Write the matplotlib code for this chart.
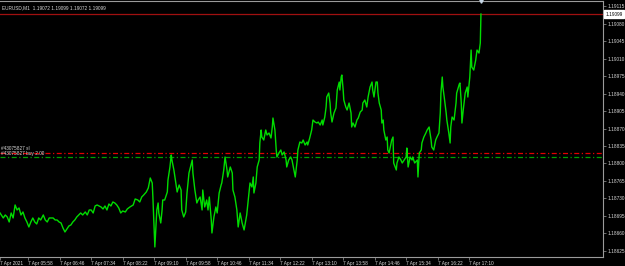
import matplotlib
matplotlib.use("Agg")
import matplotlib.pyplot as plt
import matplotlib.transforms as mtransforms

#-----Data-----#
Symbol = "EURUSD,M1"
LastBar = [1.19072, 1.19099, 1.19072, 1.19099]  # O H L C
Ticket = "#43075827"
StopLoss = 1.18822
OpenPrice = 1.18812
Bid = 1.19099

# minutes since 05:15 on 7 Apr 2021
Minutes = [0, 5, 8, 11, 14, 17, 20, 23, 26, 29, 32, 35, 38, 41, 44, 47, 50, 53, 56, 59,
           62, 66, 69, 72, 75, 78, 81, 84, 87, 90, 93, 96, 99, 102, 105, 108, 111, 114, 117, 120,
           123, 126, 130, 133, 136, 139, 142, 145, 148, 151, 154, 157, 160, 163, 166, 169, 172, 175, 178, 181,
           184, 187, 191, 194, 198, 203, 206, 210, 213, 216, 219, 223, 226, 229, 232, 233, 235, 236, 238, 239,
           241, 242, 245, 247, 248, 251, 255, 256, 259, 261, 262, 265, 268, 270, 273, 276, 277, 280, 283, 285,
           288, 291, 293, 294, 297, 300, 302, 305, 308, 309, 312, 315, 317, 319, 322, 323, 326, 329, 331, 334,
           337, 338, 341, 343, 346, 347, 351, 354, 355, 358, 361, 363, 366, 369, 372, 376, 381, 384, 386, 387,
           390, 392, 395, 396, 398, 399, 402, 405, 407, 410, 413, 415, 416, 419, 421, 422, 425, 428, 430, 433,
           436, 437, 440, 443, 445, 448, 450, 453, 454, 457, 460, 462, 465, 468, 469, 472, 475, 477, 480, 483,
           485, 488, 491, 492, 495, 497, 498, 501, 503, 504, 506, 509, 512, 514, 517, 518, 520, 521, 523, 524,
           527, 529, 532, 535, 536, 538, 541, 544, 546, 549, 552, 553, 556, 559, 561, 564, 567, 568, 570, 573,
           575, 576, 578, 581, 582, 584, 585, 588, 590, 591, 593, 596, 597, 599, 600, 604, 605, 608, 611, 613,
           616, 619, 620, 622, 625, 628, 629, 632, 636, 637, 639, 642, 643, 646, 649, 651, 654, 657, 658, 661,
           664, 666, 669, 671, 672, 674, 675, 677, 680, 681, 684, 686, 687, 689, 692, 695, 696, 700, 701, 703,
           704, 706, 709, 712, 713, 716, 718, 719, 722, 725, 727, 730, 732, 733]

Closes = [1.18701, 1.18691, 1.18697, 1.18693, 1.18683, 1.18701, 1.18691, 1.18717, 1.18707, 1.18711,
          1.18697, 1.18703, 1.18691, 1.18683, 1.18673, 1.18683, 1.18691, 1.18683, 1.18679, 1.18691,
          1.18687, 1.18697, 1.18687, 1.18683, 1.18691, 1.18691, 1.18691, 1.18687, 1.18687, 1.18683,
          1.18681, 1.18671, 1.18663, 1.18669, 1.18675, 1.18677, 1.18683, 1.18687, 1.18693, 1.18697,
          1.18701, 1.18697, 1.18703, 1.18697, 1.18707, 1.18707, 1.18701, 1.18715, 1.18717, 1.18715,
          1.18713, 1.18709, 1.18715, 1.18707, 1.18719, 1.18715, 1.18723, 1.18721, 1.18717, 1.18711,
          1.18701, 1.18705, 1.18703, 1.18709, 1.18713, 1.18717, 1.18729, 1.18727, 1.18723, 1.18733,
          1.18737, 1.18743, 1.18751, 1.18771, 1.18761, 1.18733, 1.18667, 1.18633, 1.18681, 1.18707,
          1.18721, 1.18701, 1.18681, 1.18707, 1.18727, 1.18727, 1.18743, 1.18767, 1.18793, 1.18817,
          1.18807, 1.18787, 1.18761, 1.18743, 1.18757, 1.18747, 1.18707, 1.18693, 1.18703, 1.18741,
          1.18781, 1.18797, 1.18807, 1.18781, 1.18747, 1.18721, 1.18727, 1.18733, 1.18707, 1.18747,
          1.18713, 1.18727, 1.18707, 1.18733, 1.18687, 1.18661, 1.18693, 1.18713, 1.18701, 1.18741,
          1.18757, 1.18761, 1.18787, 1.18813, 1.18787, 1.18773, 1.18793, 1.18781, 1.18747, 1.18733,
          1.18707, 1.18673, 1.18701, 1.18681, 1.18667, 1.18697, 1.18761, 1.18753, 1.18773, 1.18741,
          1.18761, 1.18793, 1.18807, 1.18841, 1.18867, 1.18853, 1.18847, 1.18867, 1.18857, 1.18861,
          1.18851, 1.18873, 1.18891, 1.18867, 1.18827, 1.18813, 1.18821, 1.18827, 1.18817, 1.18823,
          1.18807, 1.18793, 1.18807, 1.18813, 1.18807, 1.18787, 1.18773, 1.18807, 1.18827, 1.18843,
          1.18841, 1.18847, 1.18837, 1.18843, 1.18837, 1.18851, 1.18867, 1.18887, 1.18883, 1.18881,
          1.18883, 1.18877, 1.18887, 1.18877, 1.18893, 1.18913, 1.18933, 1.18941, 1.18921, 1.18901,
          1.18883, 1.18901, 1.18911, 1.18947, 1.18963, 1.18947, 1.18973, 1.18977, 1.18947, 1.18927,
          1.18913, 1.18907, 1.18921, 1.18901, 1.18873, 1.18881, 1.18873, 1.18887, 1.18891, 1.18903,
          1.18907, 1.18921, 1.18927, 1.18913, 1.18933, 1.18953, 1.18963, 1.18947, 1.18933, 1.18963,
          1.18963, 1.18941, 1.18921, 1.18907, 1.18881, 1.18887, 1.18867, 1.18847, 1.18853, 1.18827,
          1.18821, 1.18841, 1.18847, 1.18853, 1.18801, 1.18787, 1.18801, 1.18813, 1.18807, 1.18801,
          1.18807, 1.18813, 1.18831, 1.18793, 1.18813, 1.18807, 1.18813, 1.18801, 1.18807, 1.18773,
          1.18821, 1.18827, 1.18841, 1.18853, 1.18861, 1.18867, 1.18873, 1.18847, 1.18833, 1.18827,
          1.18847, 1.18853, 1.18861, 1.18901, 1.18941, 1.18973, 1.18953, 1.18933, 1.18901, 1.18887,
          1.18861, 1.18841, 1.18873, 1.18893, 1.18887, 1.18921, 1.18941, 1.18959, 1.18961, 1.18921,
          1.18881, 1.18907, 1.18941, 1.18953, 1.18933, 1.18973, 1.19027, 1.18993, 1.18987, 1.19007,
          1.19027, 1.19021, 1.19041, 1.19099]

TimeTicks = [0, 43, 91, 139, 187, 235, 283, 331, 379, 427, 475, 523, 571, 619, 667, 715]
TimeLabels = ["7 Apr 2021", "7 Apr 05:58", "7 Apr 06:46", "7 Apr 07:34", "7 Apr 08:22",
              "7 Apr 09:10", "7 Apr 09:58", "7 Apr 10:46", "7 Apr 11:34", "7 Apr 12:22",
              "7 Apr 13:10", "7 Apr 13:58", "7 Apr 14:46", "7 Apr 15:34", "7 Apr 16:22",
              "7 Apr 17:10"]

PriceTicks = [1.19115, 1.19080, 1.19045, 1.19010, 1.18975, 1.18940, 1.18905, 1.18870,
              1.18835, 1.18800, 1.18765, 1.18730, 1.18695, 1.18660, 1.18625]
#-----Data-----#

#-----Plot-----#
Font = "Liberation Sans"
FontSize = 3.4
TextColor = "#d8d8d8"
AxisColor = "#9a9a9a"

fig = plt.figure(figsize=(6.25, 2.66), dpi=100, facecolor="black")
ax = fig.add_axes([0.0, 0.034, 0.9648, 0.962])
ax.set_facecolor("black")

ax.plot(Minutes, Closes, color="#00dc00", linewidth=1.0, zorder=3)

#order lines
ax.axhline(StopLoss, color="#e00000", linestyle="-.", linewidth=0.9, dashes=(4, 2, 1, 2), zorder=2)
ax.axhline(OpenPrice, color="#00a000", linestyle="-.", linewidth=0.9, dashes=(4, 2, 1, 2), zorder=2)
ax.text(1, StopLoss + 0.00003, Ticket + " sl", color=TextColor, fontsize=FontSize,
        family=Font, va="bottom", ha="left")
ax.text(1, OpenPrice + 0.00003, Ticket + " buy 2.00", color=TextColor, fontsize=FontSize,
        family=Font, va="bottom", ha="left")

#bid line
ax.axhline(Bid, color="#a01010", linewidth=0.9, zorder=2)

ax.set_xlim(0, 919)
ax.set_ylim(1.18613, 1.19125)

#shift marker at last bar
ax.plot(Minutes[-1], 1.19125, marker="v", color="#c8d8e8", markersize=2.5, clip_on=False, zorder=5)

#header text
ax.text(0.003, 0.985, Symbol + "  " + " ".join("%.5f" % v for v in LastBar),
        transform=ax.transAxes, color=TextColor, fontsize=FontSize, family=Font,
        va="top", ha="left")

#axes
ax.yaxis.tick_right()
ax.set_yticks(PriceTicks)
ax.set_yticklabels(["%.5f" % v for v in PriceTicks])
ax.set_xticks(TimeTicks)
ax.set_xticklabels(TimeLabels)
ax.tick_params(axis="y", colors=AxisColor, labelcolor=TextColor, labelsize=FontSize,
               length=2, width=0.5, pad=1.5)
ax.tick_params(axis="x", colors=AxisColor, labelcolor=TextColor, labelsize=FontSize,
               length=2, width=0.5, pad=1)
for Label in ax.get_xticklabels() + ax.get_yticklabels():
    Label.set_family(Font)
for Label in ax.get_xticklabels():
    Label.set_ha("left")

ax.spines["left"].set_visible(False)
for Side in ["top", "bottom", "right"]:
    ax.spines[Side].set_color(AxisColor)
    ax.spines[Side].set_linewidth(0.8)

#current price box
Trans = mtransforms.blended_transform_factory(ax.transAxes, ax.transData)
ax.text(1.004, Bid, "%.5f" % Bid, transform=Trans, color="black", fontsize=FontSize,
        family=Font, va="center", ha="left", zorder=6,
        bbox=dict(boxstyle="square,pad=0.25", facecolor="white", edgecolor="white"))

fig.savefig("out.png", dpi=100, facecolor="black")
#-----Plot-----#
